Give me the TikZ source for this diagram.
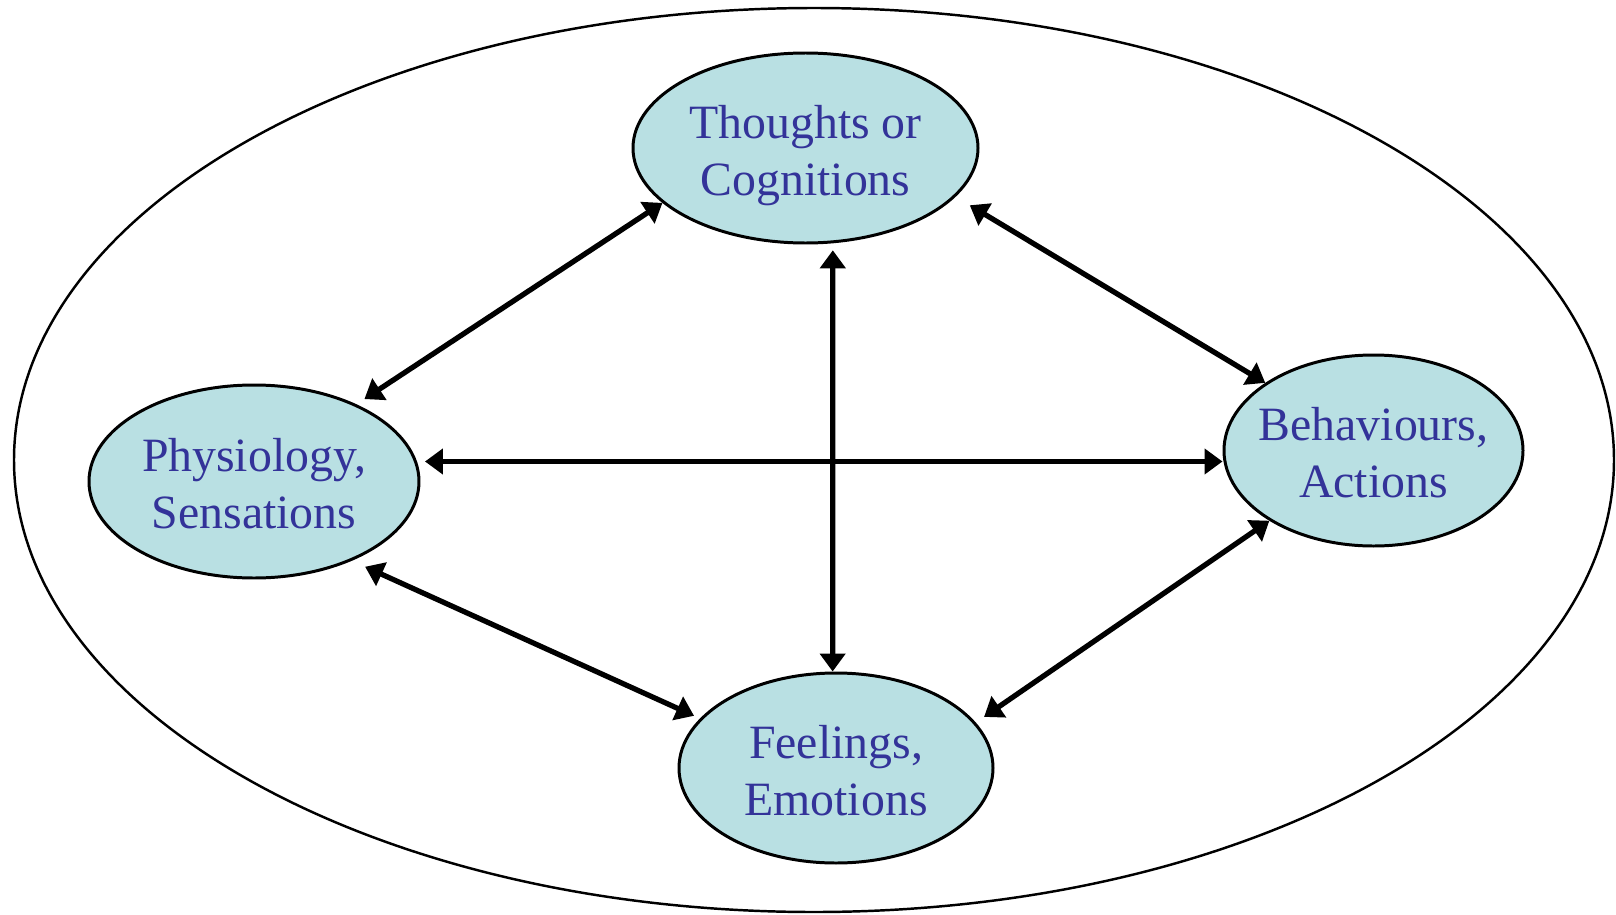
\documentclass[tikz,border=0pt]{standalone}
\usepackage{fontspec}
\setmainfont{Liberation Serif}
\usepackage{tikz}
\usetikzlibrary{shapes.geometric, arrows.meta}
\definecolor{partfill}{RGB}{185,224,227}
\definecolor{parttext}{RGB}{51,51,153}
\newcommand{\topline}{\rule{0pt}{4.8mm}}
\newcommand{\lowline}{\vphantom{g}}

\begin{document}
\begin{tikzpicture}[every node/.style = {align=center},
  part/.style = {ellipse, draw, line width=0.85pt, fill=partfill, text=parttext,
    inner xsep=-4mm, inner ysep=0pt, minimum height=1.9cm,
    font=\fontsize{13.6pt}{16.2pt}\selectfont},
  link/.style = {{Triangle[length=1.8mm,width=2.5mm]}-{Triangle[length=1.8mm,width=2.5mm]}, line width=1.5pt}]
 \useasboundingbox (0,0) rectangle (16.16,9.14);
 \node [ellipse, draw, line width=0.7pt, minimum width=16cm, minimum height=9.04cm] (frame) at (8.14,4.54) {};
 \node [part, minimum width=3.45cm] (thoughts) at (8.055,7.66) {\topline Thoughts or \\ Cognitions\lowline};
 \node [part, minimum width=3.30cm, minimum height=1.93cm] (physio) at (2.54,4.325) {\topline Physiology, \\ Sensations\lowline};
 \node [part, minimum width=2.99cm, minimum height=1.91cm] (behaviours) at (13.735,4.635) {\topline Behaviours, \\ Actions\lowline};
 \node [part, minimum width=3.14cm] (feelings) at (8.36,1.46) {\topline Feelings, \\ Emotions\lowline};
 \draw [link, shorten >=0.95mm] (thoughts.201) -- (physio.37);
 \draw [link, shorten <=1.65mm] (thoughts.342) -- (behaviours.148);
 \draw [link, shorten <=1.45mm, shorten >=0.65mm] (physio.321) -- (feelings.160);
 \draw [link, shorten >=1mm] (behaviours.214) -- (feelings.18);
 \draw [link, shorten <=0.8mm] (physio.7) -- (physio.7 -| behaviours.west);
 \draw [link, shorten <=0.7mm] (thoughts.286) -- (feelings.92);
\end{tikzpicture}
\end{document}
